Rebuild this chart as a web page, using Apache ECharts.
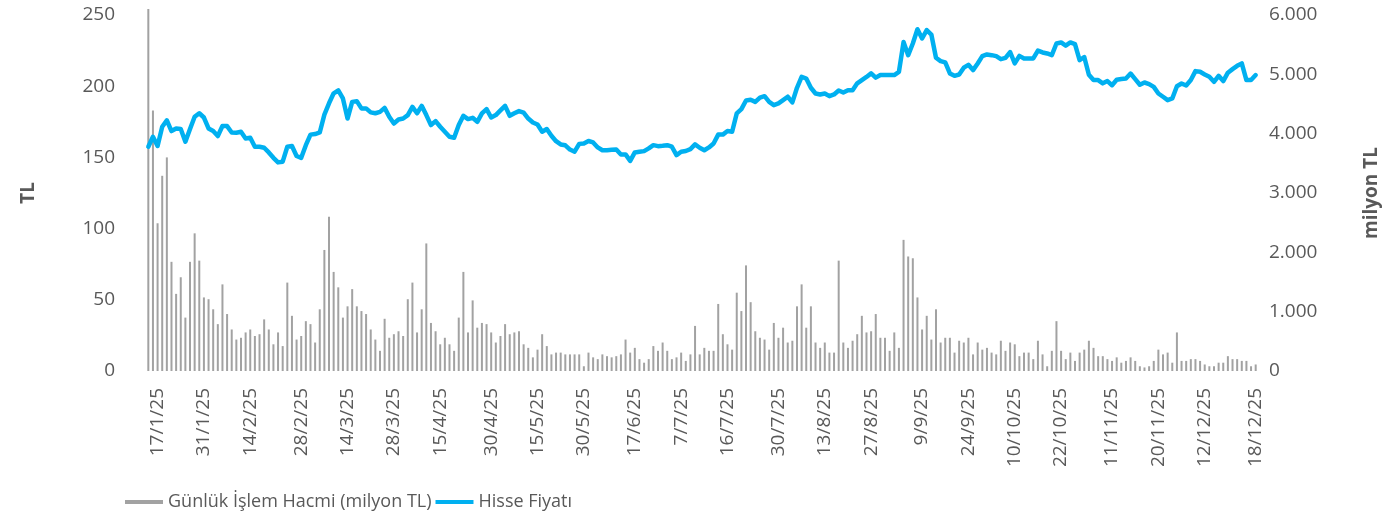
<!DOCTYPE html>
<html>
<head>
<meta charset="utf-8">
<script src="https://cdn.jsdelivr.net/npm/echarts@6/dist/echarts.min.js"></script>
<style>
  html, body { margin: 0; padding: 0; background: #fff; }
  #chart { width: 1389px; height: 517px; }
</style>
</head>
<body>
<div id="chart"></div>
<script>
// x-axis date labels and the trading-day index each one sits on
const tickLabels = ["17/1/25", "31/1/25", "14/2/25", "28/2/25", "14/3/25", "28/3/25", "15/4/25", "30/4/25",
  "15/5/25", "30/5/25", "17/6/25", "7/7/25", "16/7/25", "30/7/25", "13/8/25", "27/8/25", "9/9/25",
  "24/9/25", "10/10/25", "22/10/25", "11/11/25", "20/11/25", "12/12/25", "18/12/25"];
const tickIndex = [2, 12, 22, 33, 43, 53, 63, 74, 84, 94, 105, 115, 125, 136, 146, 156, 167, 177, 187, 197, 208, 218, 228, 239];

// Günlük İşlem Hacmi (milyon TL)
const volume = [
  6100, 4390, 2490, 3290, 3600, 1840, 1300, 1580, 900, 1840,
  2320, 1860, 1240, 1210, 1040, 790, 1460, 960, 700, 530,
  560, 650, 700, 590, 620, 870, 700, 450, 650, 420,
  1490, 930, 530, 590, 840, 790, 480, 1040, 2040, 2600,
  1670, 1410, 900, 1090, 1380, 1090, 1010, 960, 700, 530,
  340, 880, 560, 620, 670, 590, 1210, 1490, 650, 1040,
  2150, 810, 670, 450, 560, 450, 340, 900, 1670, 650,
  1190, 730, 810, 790, 650, 480, 590, 790, 620, 650,
  670, 450, 390, 230, 360, 620, 420, 280, 310, 310,
  280, 280, 280, 280, 80, 310, 230, 200, 280, 250,
  230, 250, 280, 530, 310, 390, 200, 140, 200, 420,
  340, 480, 340, 200, 230, 310, 170, 280, 760, 280,
  390, 340, 340, 1130, 620, 450, 360, 1320, 1010, 1780,
  1160, 670, 560, 530, 360, 810, 560, 730, 480, 510,
  1090, 1460, 730, 1090, 480, 390, 480, 310, 310, 1860,
  480, 390, 510, 620, 930, 650, 670, 960, 560, 560,
  340, 650, 390, 2210, 1930, 1900, 1240, 700, 930, 530,
  1040, 480, 560, 560, 310, 510, 480, 560, 280, 480,
  360, 390, 310, 280, 510, 340, 480, 450, 250, 310,
  310, 200, 510, 280, 80, 340, 840, 340, 200, 310,
  170, 310, 360, 510, 390, 250, 250, 200, 170, 230,
  140, 170, 230, 170, 80, 60, 80, 170, 360, 280,
  310, 140, 650, 170, 170, 200, 200, 170, 110, 80,
  80, 140, 140, 250, 200, 200, 170, 170, 80, 110
];

// Hisse Fiyatı (TL)
const price = [
  157.5, 164.5, 158, 171.5, 176, 168.5, 170.3, 170, 161, 170,
  178.5, 181, 178, 170.3, 168.5, 165, 172, 172, 167.5, 167.3,
  168, 163.3, 163.8, 157.5, 157.5, 156.8, 153.5, 149.7, 146.5, 147,
  157.5, 158, 151, 149.7, 158.6, 166, 166.4, 167.5, 180, 188,
  195, 197, 191.4, 177.3, 189, 189.5, 184.4, 184.4, 181.6, 181,
  182, 184.8, 178.5, 173.8, 176.6, 177.3, 179.7, 185.5, 181,
  186.2, 179.7, 172.7, 175.5, 171.5, 168, 164.5, 163.8, 172.7, 179.2,
  176.9, 177.8, 175, 180.9, 183.9, 178, 179.7, 183, 186.2, 179.2,
  181, 182.5, 181.5, 177.3, 174.5, 173.1, 168, 169.9, 165.2, 161.4,
  159.1, 158.5, 155.5, 154, 159.5, 159.8, 161.5, 160.5, 157, 155,
  155, 155.3, 155.6, 152.1, 152.1, 147.6, 153.5, 154, 154.4, 156.3,
  158.6, 157.9, 158.2, 158.6, 157.5, 151.6, 154,
  154.5, 155.8, 159.1, 156.8, 155, 157, 159.8, 166, 166, 168.5,
  168, 180.9, 183.9, 190, 190.5, 189, 192, 193, 189, 186.7,
  187.9, 190.2, 192.6, 188.6, 198.9, 206.6, 205.4, 198.9, 194.9, 194.2,
  194.9, 193, 194.2, 197, 195.6, 197.2, 197.2, 202, 204.3, 206.5,
  209, 206, 207.8, 207.8, 207.8, 207.8, 210, 231, 221.8, 230,
  240, 233.5, 239.4, 236.3, 220, 217.6,
  216.7, 209, 207.3, 208.2, 213, 215, 211.3, 216, 221.1, 222.3,
  221.8, 221.1, 219, 219.9, 224, 216, 221.3, 219.5, 219.5, 219.5,
  225, 223.7, 223, 221.8, 230, 230.7, 228.5, 230.7, 229.5, 218.3,
  220.5, 208, 204.3, 204.3, 202, 203.6, 200.7, 204.5, 205, 205.4,
  208.9, 205, 201, 202.6, 201.5, 199.5, 194.9, 192.6, 190.2, 191.4,
  200, 201.9, 200.5, 204.3, 210.6, 210.1, 208.2, 206.6, 203.1, 207.3,
  203.6, 209.5, 212, 214.3, 216, 204.3, 204.3, 207.8
];

const days = volume.map((v, i) => {
  const k = tickIndex.indexOf(i);
  return k >= 0 ? tickLabels[k] : "#" + i;
});

const textColor = "#595959";
const fontFamily = "'Open Sans', sans-serif";

const chart = echarts.init(document.getElementById("chart"));
chart.setOption({
  animation: false,
  textStyle: { fontFamily: fontFamily },
  grid: {
    left: 146,
    right: 120,
    top: 15,
    bottom: 146,
  },
  legend: {
    left: 120,
    top: 488,
    icon: "rect",
    itemWidth: 38,
    itemHeight: 4,
    itemGap: 4,
    textStyle: { color: textColor, fontSize: 18, fontFamily: fontFamily },
    data: ["Günlük İşlem Hacmi (milyon TL)", "Hisse Fiyatı"],
  },
  xAxis: {
    type: "category",
    data: days,
    boundaryGap: true,
    axisLine: { show: false },
    axisTick: { show: false },
    axisLabel: {
      rotate: 90,
      margin: 17,
      color: textColor,
      fontSize: 19,
      interval: (i) => tickIndex.includes(i),
    },
  },
  yAxis: [
    {
      type: "value",
      min: 0,
      max: 250,
      interval: 50,
      name: "TL",
      nameLocation: "middle",
      nameRotate: 90,
      nameGap: 108,
      nameTextStyle: { color: textColor, fontSize: 19, fontWeight: "bold" },
      axisLine: { show: false },
      axisTick: { show: false },
      splitLine: { show: false },
      axisLabel: { color: textColor, fontSize: 19, margin: 31 },
    },
    {
      type: "value",
      min: 0,
      max: 6000,
      interval: 1000,
      name: "milyon TL",
      nameLocation: "middle",
      nameRotate: 90,
      nameGap: 104,
      nameTextStyle: { color: textColor, fontSize: 19, fontWeight: "bold" },
      axisLine: { show: false },
      axisTick: { show: false },
      splitLine: { show: false },
      axisLabel: {
        color: textColor,
        fontSize: 19,
        margin: 11,
        formatter: (v) => v.toLocaleString("de-DE"),
      },
    },
  ],
  series: [
    {
      name: "Günlük İşlem Hacmi (milyon TL)",
      type: "bar",
      yAxisIndex: 1,
      data: volume,
      barWidth: 2,
      clip: false,
      itemStyle: { color: "#a2a2a2" },
    },
    {
      name: "Hisse Fiyatı",
      type: "line",
      yAxisIndex: 0,
      data: price,
      symbol: "none",
      lineStyle: { color: "#00b0f0", width: 4.5, join: "round", cap: "round" },
      itemStyle: { color: "#00b0f0" },
    },
  ],
});
</script>
</body>
</html>
